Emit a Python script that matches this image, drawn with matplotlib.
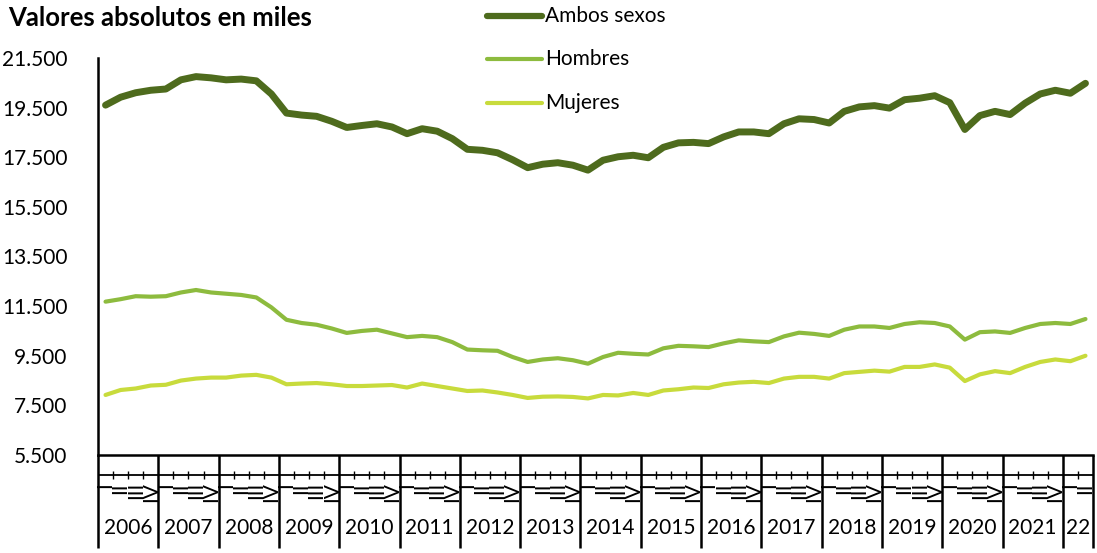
import numpy as np
import matplotlib
matplotlib.use('Agg')
import matplotlib.pyplot as plt

plt.rcParams['font.family'] = ['Lato', 'DejaVu Sans']

# Datos trimestrales (miles de personas), 2006T1 - 2022T2
years = ['2006', '2007', '2008', '2009', '2010', '2011', '2012', '2013',
         '2014', '2015', '2016', '2017', '2018', '2019', '2020', '2021', '22']
quarters = ['I', 'II', 'III', 'IV']

ambos = [19600, 19920, 20100, 20200,
         20250, 20620, 20750, 20700,
         20620, 20650, 20580, 20050,
         19280, 19200, 19150, 18950,
         18700, 18780, 18850, 18720,
         18450, 18650, 18550, 18250,
         17820, 17780, 17680, 17400,
         17080, 17220, 17280, 17180,
         16980, 17380, 17520, 17580,
         17480, 17900, 18080, 18100,
         18050, 18320, 18520, 18520,
         18450, 18850, 19050, 19020,
         18880, 19350, 19530, 19580,
         19480, 19820, 19880, 19980,
         19700, 18620, 19180, 19350,
         19220, 19680, 20050, 20200,
         20080, 20480]

hombres = [11680, 11780, 11900, 11880,
           11900, 12050, 12150, 12050,
           12000, 11950, 11850, 11450,
           10950, 10820, 10750, 10600,
           10420, 10500, 10550, 10400,
           10250, 10300, 10250, 10050,
           9750, 9720, 9700, 9450,
           9250, 9350, 9400, 9320,
           9180, 9450, 9620, 9580,
           9550, 9800, 9900, 9880,
           9850, 10000, 10120, 10080,
           10050, 10280, 10430, 10380,
           10300, 10550, 10680, 10680,
           10620, 10780, 10850, 10820,
           10680, 10150, 10450, 10480,
           10420, 10620, 10780, 10820,
           10780, 10980]

mujeres = [7920, 8120, 8180, 8300,
           8330, 8500, 8580, 8620,
           8620, 8700, 8730, 8620,
           8350, 8380, 8400, 8350,
           8280, 8280, 8300, 8320,
           8220, 8380, 8280, 8180,
           8080, 8100, 8020, 7920,
           7800, 7850, 7860, 7840,
           7780, 7920, 7900, 8000,
           7920, 8100, 8150, 8220,
           8200, 8350, 8420, 8450,
           8400, 8580, 8650, 8650,
           8580, 8800, 8850, 8900,
           8860, 9050, 9050, 9150,
           9020, 8480, 8750, 8880,
           8800, 9050, 9250, 9350,
           9280, 9500]

series = [('Ambos sexos', ambos, '#4E6B1D', 5.0),
          ('Hombres', hombres, '#8DBB3E', 3.0),
          ('Mujeres', mujeres, '#C8DB3C', 3.0)]

W, H = 1097, 553
fig = plt.figure(figsize=(W / 100, H / 100), dpi=100)

def fx(px):
    return px / W

def fy(py):
    return 1 - py / H

x_left, x_right = 98, 1093
y_top, y_axis, y_bot = 58, 455, 548

ax = fig.add_axes([fx(x_left), fy(y_axis), fx(x_right - x_left), (y_axis - y_top) / H])
n = len(ambos)
x = np.arange(n)
for name, vals, col, lw in series:
    ax.plot(x, vals, color=col, lw=lw, solid_joinstyle='round', solid_capstyle='round')

ax.set_xlim(-0.5, n - 0.5)
ax.set_ylim(5500, 21500)
ticks = np.arange(5500, 21501, 2000)
ax.set_yticks(ticks)
ax.set_yticklabels([f'{t:,}'.replace(',', '.') for t in ticks], fontsize=15)
ax.tick_params(axis='y', length=0, pad=22)
ax.set_xticks([])
for s in ['top', 'right']:
    ax.spines[s].set_visible(False)
ax.spines['left'].set_linewidth(1.8)
ax.spines['bottom'].set_linewidth(1.8)

# Eje de categorías (trimestres / años)
cat = fig.add_axes([fx(x_left), fy(y_bot), fx(x_right - x_left), (y_bot - y_axis) / H])
cat.set_xlim(-0.5, n - 0.5)
cat.set_ylim(y_bot - y_axis, 0)
cat.axis('off')

bounds = list(np.arange(-0.5, n, 4)) + [n - 0.5]
cat.vlines(bounds, 0, y_bot - y_axis, color='black', lw=1.8, clip_on=False)
cat.hlines(20, -0.5, n - 0.5, color='black', lw=1.3, clip_on=False)
qb = [b for b in np.arange(0.5, n - 0.5, 1) if (b + 0.5) % 4 != 0]
cat.vlines(qb, 16, 24, color='black', lw=1.0, clip_on=False)

for i in range(n):
    cat.text(i, 27, quarters[i % 4], rotation=90, ha='center', va='top',
             fontsize=15, clip_on=False)

for k, yr in enumerate(years):
    start = 4 * k - 0.5
    end = min(start + 4, n - 0.5)
    cat.text((start + end) / 2, 73, yr, ha='center', va='center', fontsize=15)

# Título
fig.text(fx(8), fy(18), 'Valores absolutos en miles', fontsize=18.5,
         fontweight='bold', ha='left', va='center')

# Leyenda
leg_y = [16, 59, 103]
leg_lw = [4.5, 3.0, 3.0]
for (name, vals, col, lw), ly, hlw in zip(series, leg_y, leg_lw):
    fig.add_artist(plt.Line2D([fx(487), fx(542)], [fy(ly), fy(ly)], color=col, lw=hlw,
                              solid_capstyle='round', transform=fig.transFigure))
    fig.text(fx(545), fy(ly), name, fontsize=15, ha='left', va='center')

fig.savefig('out.png', dpi=100)
